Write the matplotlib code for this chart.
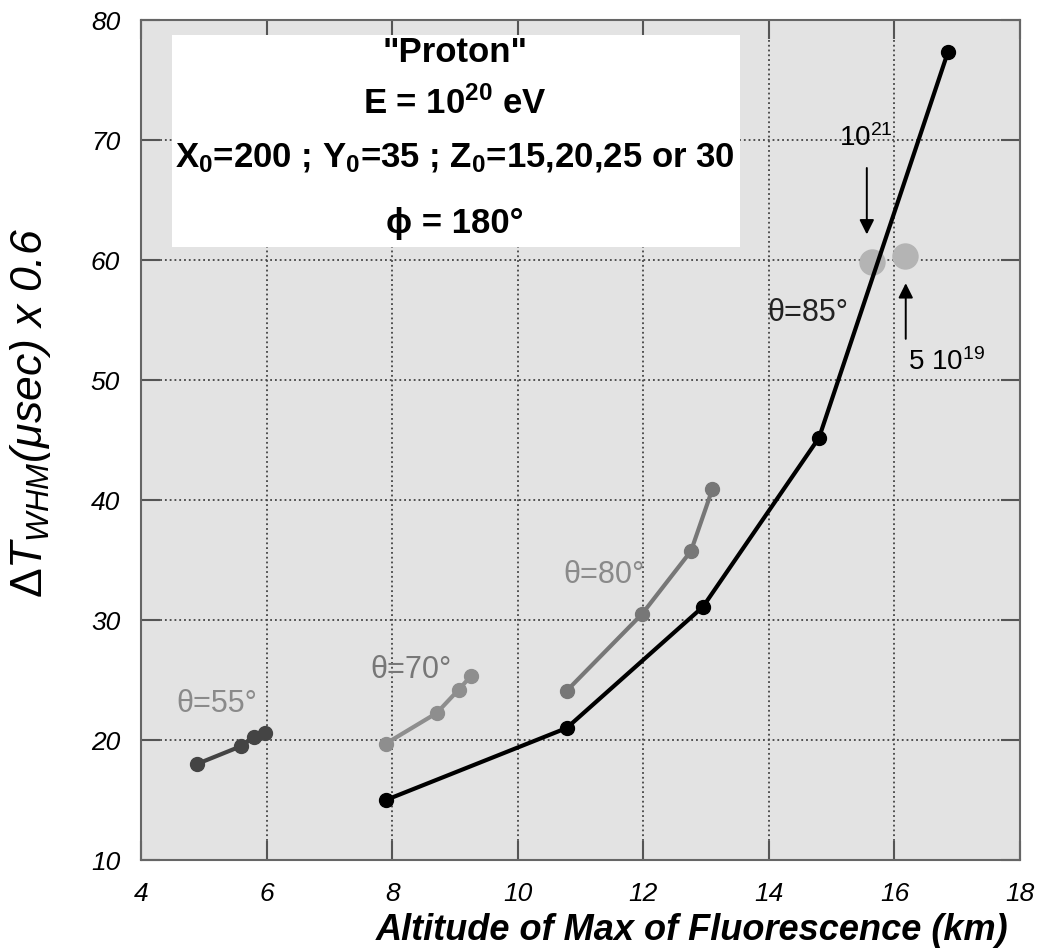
"""
Altitude of shower maximum vs. FWHM pulse duration (Proton, E = 1e20 eV).
"""
import matplotlib
matplotlib.use("Agg")
import matplotlib.pyplot as plt
from matplotlib.patches import Rectangle

plt.rcParams["font.family"] = ["Liberation Sans", "DejaVu Sans"]
plt.rcParams["mathtext.fontset"] = "custom"
plt.rcParams["mathtext.rm"] = "Liberation Sans"
plt.rcParams["mathtext.it"] = "Liberation Sans:italic"
plt.rcParams["mathtext.bf"] = "Liberation Sans:bold"

# --------------------------------------------------------------------------- #
# データ
# --------------------------------------------------------------------------- #
theta85_x = [7.9, 10.78, 12.95, 14.8, 16.85]
theta85_y = [15.0, 21.0, 31.1, 45.2, 77.3]

theta80_x = [10.78, 11.98, 12.76, 13.1]
theta80_y = [24.1, 30.5, 35.75, 40.9]

theta70_x = [7.9, 8.71, 9.06, 9.25]
theta70_y = [19.7, 22.25, 24.2, 25.3]

theta55_x = [4.89, 5.6, 5.8, 5.97]
theta55_y = [18.0, 19.5, 20.25, 20.6]

# 他エネルギー (1e21, 5e19) の θ=85° 点
energy_x = [15.64, 16.17]
energy_y = [59.8, 60.3]

x_ticks = [4, 6, 8, 10, 12, 14, 16, 18]
y_ticks = [10, 20, 30, 40, 50, 60, 70, 80]

# --------------------------------------------------------------------------- #
fig = plt.figure(figsize=(10.42, 9.48), dpi=100)
ax = fig.add_axes([0.1353, 0.0928, 0.8436, 0.8861])
ax.set_facecolor("#e3e3e3")

ax.plot(theta85_x, theta85_y, color="black", lw=3, marker="o", ms=10, zorder=4)
ax.plot(theta80_x, theta80_y, color="#777777", lw=3, marker="o", ms=10, zorder=4)
ax.plot(theta70_x, theta70_y, color="#8e8e8e", lw=3, marker="o", ms=10, zorder=4)
ax.plot(theta55_x, theta55_y, color="#444444", lw=3, marker="o", ms=10, zorder=4)
ax.plot(energy_x, energy_y, ls="none", color="#b4b4b4", marker="o", ms=18, zorder=3)

# θ ラベル
ax.text(14.62, 55.6, "θ=85°", fontsize=22, color="#222222", ha="center", va="center")
ax.text(11.37, 33.75, "θ=80°", fontsize=22, color="#8a8a8a", ha="center", va="center")
ax.text(8.3, 25.8, "θ=70°", fontsize=22, color="#777777", ha="center", va="center")
ax.text(5.2, 23.0, "θ=55°", fontsize=22, color="#8a8a8a", ha="center", va="center")

# エネルギー注記
ax.text(15.55, 69.5, r"10$^{21}$", fontsize=20, ha="center", va="baseline")
ax.annotate("", xy=(15.56, 61.9), xytext=(15.56, 67.9),
            arrowprops=dict(arrowstyle="-|>", color="black", lw=1.4, mutation_scale=22))
ax.text(16.83, 50.8, r"5 10$^{19}$", fontsize=20, ha="center", va="baseline")
ax.annotate("", xy=(16.18, 58.3), xytext=(16.18, 53.2),
            arrowprops=dict(arrowstyle="-|>", color="black", lw=1.4, mutation_scale=22))

# 情報ボックス
ax.add_patch(Rectangle((0.035, 0.730), 0.646, 0.252, transform=ax.transAxes,
                       facecolor="white", edgecolor="none", zorder=5))
box_lines = [
    (0.950, '"Proton"'),
    (0.888, r"E = 10$^{\mathbf{20}}$ eV"),
    (0.825, r"X$_{\mathbf{0}}$=200 ; Y$_{\mathbf{0}}$=35 ; Z$_{\mathbf{0}}$=15,20,25 or 30"),
    (0.746, r"ϕ = 180°"),
]
for yy, s in box_lines:
    ax.text(0.357, yy, s, transform=ax.transAxes, fontsize=25, fontweight="bold",
            ha="center", va="baseline", zorder=6)

ax.set_xlim(4, 18)
ax.set_ylim(10, 80)
ax.set_xticks(x_ticks)
ax.set_yticks(y_ticks)
ax.tick_params(direction="in", length=14, width=1.5, color="#555555",
               top=True, right=True, labelsize=19)
ax.tick_params(axis="x", pad=16)
ax.tick_params(axis="y", pad=15)
for lab in ax.get_xticklabels() + ax.get_yticklabels():
    lab.set_fontstyle("italic")
ax.grid(True, ls=":", color="#444444", lw=1.3)
for sp in ax.spines.values():
    sp.set_color("#666666")
    sp.set_linewidth(1.5)

ax.text(0.627, -0.095, "Altitude of Max of Fluorescence (km)", transform=ax.transAxes,
        fontsize=26, fontweight="bold", fontstyle="italic", ha="center", va="baseline")
ax.text(-0.126, 0.532, r"$\Delta T_{WHM}$(μsec) x 0.6", transform=ax.transAxes,
        rotation=90, fontsize=32, fontstyle="italic", ha="center", va="center")

fig.savefig("out.png", dpi=100)
